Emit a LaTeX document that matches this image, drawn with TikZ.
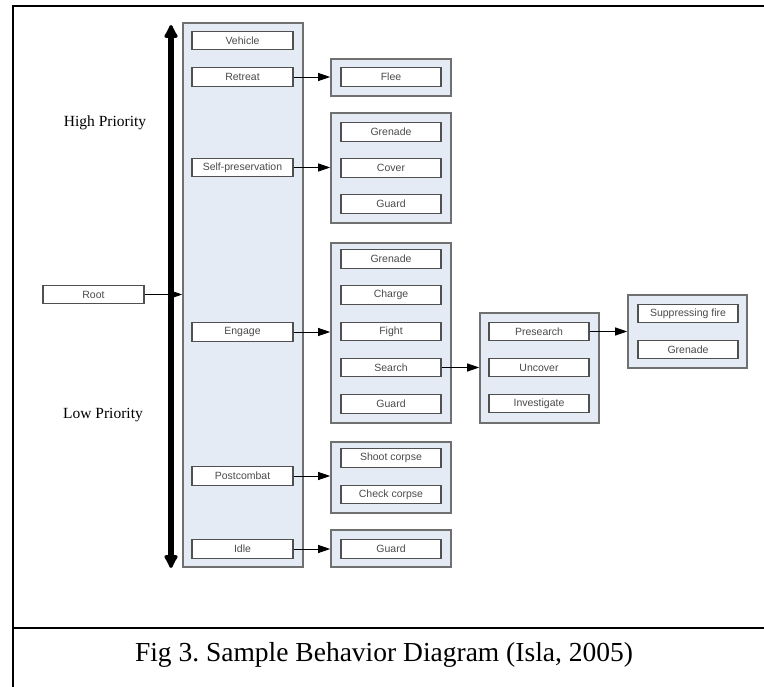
\documentclass[tikz,border=0pt]{standalone}
\usepackage{fontspec}
\setmainfont{Liberation Serif}
\newfontfamily\boxfont{Liberation Sans}
\usetikzlibrary{arrows.meta}
\frenchspacing

\definecolor{panelblue}{HTML}{E4EBF5}
\definecolor{panelgray}{HTML}{707070}
\definecolor{boxgray}{HTML}{505050}
\definecolor{labelgray}{HTML}{4A4A4A}

\tikzset{
  panel/.style={draw=panelgray, fill=panelblue, line width=1.6pt, inner sep=0pt},
  leaf/.style={draw=boxgray, fill=white, line width=1.2pt, minimum width=100pt,
    minimum height=18.5pt, inner sep=0pt, text=labelgray,
    font=\boxfont\fontsize{10.5}{12}\selectfont},
  link/.style={-{Triangle[length=12pt,width=8pt]}, line width=0.8pt},
  priority/.style={font=\fontsize{15.5}{18}\selectfont},
}

\begin{document}
\begin{tikzpicture}[x=1pt, y=-1pt]
  % page area and frame
  \fill[white] (0,0) rectangle (764,687);
  \useasboundingbox (0,0) rectangle (764,687);
  \draw[line width=2pt] (13,690) -- (13,6) -- (767,6);
  \draw[line width=2pt] (13,628) -- (767,628);

  % top-level behaviour column
  \node[panel, minimum width=120pt, minimum height=544pt] (mainpanel) at (243,295) {};
  \node[leaf, minimum width=101pt] (vehicle)  at (242.5,40.5)  {Vehicle};
  \node[leaf, minimum width=101pt] (retreat)  at (242.5,77)    {Retreat};
  \node[leaf, minimum width=101pt] (selfpres) at (242.5,167.5) {Self-preservation};
  \node[leaf, minimum width=101pt] (engage)   at (242.5,332)   {Engage};
  \node[leaf, minimum width=101pt] (postcomb) at (242.5,476)   {Postcombat};
  \node[leaf, minimum width=101pt] (idle)     at (242.5,549)   {Idle};

  % root
  \node[leaf, minimum width=101pt] (root) at (93.5,294.5) {Root};

  % priority axis
  \coordinate (axistop) at (171,25);
  \coordinate (axisbot) at (171,568);
  \draw[line width=6pt, {Latex[length=16pt,width=17pt,round]}-{Latex[length=16pt,width=17pt,round]}]
    (axisbot) -- (axistop);
  \node[priority] (high) at (105,123) {High Priority};
  \node[priority] (low)  at (103,415) {Low Priority};

  % second level
  \node[panel, minimum width=120pt, minimum height=37pt] (fleepanel) at (391,77.5) {};
  \node[leaf] (flee) at (391,77) {Flee};

  \node[panel, minimum width=120pt, minimum height=110pt] (selfpanel) at (391,168) {};
  \node[leaf] (sgrenade) at (391,132) {Grenade};
  \node[leaf] (cover)    at (391,168) {Cover};
  \node[leaf] (sguard)   at (391,204) {Guard};

  \node[panel, minimum width=120pt, minimum height=180pt] (engpanel) at (391,333) {};
  \node[leaf] (egrenade) at (391,259)   {Grenade};
  \node[leaf] (charge)   at (391,295)   {Charge};
  \node[leaf] (fight)    at (391,331.5) {Fight};
  \node[leaf] (search)   at (391,367.5) {Search};
  \node[leaf] (eguard)   at (391,404)   {Guard};

  \node[panel, minimum width=120pt, minimum height=71pt] (postpanel) at (391,477.5) {};
  \node[leaf] (shoot) at (391,458)   {Shoot corpse};
  \node[leaf] (check) at (391,494.5) {Check corpse};

  \node[panel, minimum width=120pt, minimum height=37pt] (idlepanel) at (391,548.5) {};
  \node[leaf] (iguard) at (391,549) {Guard};

  % search level
  \node[panel, minimum width=119pt, minimum height=110pt] (srchpanel) at (539.5,368) {};
  \node[leaf] (presearch)   at (539,331.5) {Presearch};
  \node[leaf] (uncover)     at (539,367.5) {Uncover};
  \node[leaf] (investigate) at (539,403.5) {Investigate};

  % presearch level
  \node[panel, minimum width=119pt, minimum height=73pt] (prepanel) at (687.5,331.5) {};
  \node[leaf] (suppress) at (688,313.5) {Suppressing fire};
  \node[leaf] (pgrenade) at (688,349.5) {Grenade};

  % connectors
  \draw[link] (root.east)      -- (root.east -| mainpanel.west);
  \draw[link] (retreat.east)   -- (retreat.east -| fleepanel.west);
  \draw[link] (selfpres.east)  -- (selfpres.east -| selfpanel.west);
  \draw[link] (engage.east)    -- (engage.east -| engpanel.west);
  \draw[link] (postcomb.east)  -- (postcomb.east -| postpanel.west);
  \draw[link] (idle.east)      -- (idle.east -| idlepanel.west);
  \draw[link] (search.east)    -- (search.east -| srchpanel.west);
  \draw[link] (presearch.east) -- (presearch.east -| prepanel.west);

  % caption
  \node[font=\fontsize{27.5}{32}\selectfont] (caption) at (384,655) {Fig 3. Sample Behavior Diagram (Isla, 2005)};
\end{tikzpicture}
\end{document}
